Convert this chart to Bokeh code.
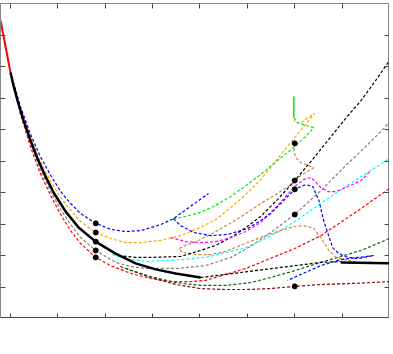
from bokeh.plotting import figure
from bokeh.models import LinearAxis, FixedTicker, Range1d
from bokeh.embed import file_html
from bokeh.resources import INLINE

# ---- data ----
red_solid_x = [-0.21, 0.0]
red_solid_y = [9.46, 7.81]

black_x = [0, 0.063, 0.148, 0.275, 0.423, 0.570, 0.739, 0.909, 1.162, 1.437, 1.796, 2.218, 2.641, 3.064, 3.486, 4.014]
black_y = [7.81, 7.40, 6.92, 6.29, 5.65, 5.08, 4.51, 4.00, 3.40, 2.89, 2.44, 2.06, 1.75, 1.56, 1.43, 1.30]
black_mid_x = [4.01, 4.86, 5.70, 6.55, 6.97]
black_mid_y = [1.30, 1.46, 1.62, 1.78, 1.81]
black_end_x = [6.97, 8.0]
black_end_y = [1.78, 1.75]

blue1_x = [0, 0.21, 0.42, 0.63, 0.85, 1.06, 1.27, 1.48, 1.80, 2.11, 2.43, 2.75, 3.17, 3.44, 3.80, 4.18]
blue1_y = [7.81, 6.73, 5.86, 5.14, 4.54, 4.03, 3.65, 3.33, 3.02, 2.83, 2.76, 2.79, 2.98, 3.17, 3.56, 3.97]

orange_x = [0, 0.21, 0.42, 0.63, 0.85, 1.06, 1.27, 1.48, 1.80, 2.11, 2.43, 2.75, 3.17, 3.59, 4.01, 4.33,
            4.65, 4.97, 5.28, 5.64, 6.00, 6.42, 6.23, 6.09, 5.98]
orange_y = [7.81, 6.67, 5.75, 4.98, 4.35, 3.84, 3.43, 3.08, 2.73, 2.54, 2.41, 2.41, 2.48, 2.63, 2.89, 3.14,
            3.52, 3.94, 4.41, 5.08, 5.75, 6.51, 6.32, 6.19, 6.29]

gray_x = [0, 0.21, 0.42, 0.63, 0.85, 1.06, 1.27, 1.48, 1.80, 2.22, 2.54, 2.85, 3.55, 4.12, 4.65, 5.07,
          5.49, 6.00, 6.55, 7.08, 7.61, 8.0]
gray_y = [7.81, 6.54, 5.56, 4.73, 4.03, 3.46, 2.98, 2.57, 2.16, 1.78, 1.65, 1.59, 1.59, 1.68, 1.94, 2.29,
          2.73, 3.30, 4.06, 4.86, 5.62, 6.22]

red_x = [0, 0.21, 0.42, 0.63, 0.85, 1.06, 1.27, 1.48, 1.80, 2.11, 2.54, 2.96, 3.38, 3.80, 4.12, 4.54,
         4.97, 5.28, 6.00, 6.55, 7.40, 8.0]
red_y = [7.81, 6.48, 5.46, 4.60, 3.90, 3.30, 2.79, 2.38, 1.94, 1.68, 1.43, 1.27, 1.17, 1.17, 1.21, 1.40,
         1.59, 1.78, 2.22, 2.63, 3.49, 4.13]

green_x = [3.44, 3.70, 4.01, 4.33, 4.65, 4.97, 5.28, 5.64, 6.00, 6.23, 6.40, 6.23, 6.06, 5.98]
green_y = [3.17, 3.24, 3.37, 3.59, 3.87, 4.22, 4.57, 5.02, 5.46, 5.78, 6.06, 6.13, 6.22, 6.38]
green_solid_x = [5.98, 5.98]
green_solid_y = [6.38, 7.05]

tan_x = [6.00, 5.98, 6.02, 6.13, 6.28, 6.40, 6.13, 5.92, 5.60, 5.28, 4.97, 4.59, 4.23, 3.91, 3.70, 3.55,
         3.63, 3.91, 4.23, 4.54, 4.90, 5.28, 5.64, 5.98, 6.19, 6.40, 6.55, 6.72, 6.87, 7.12, 7.33, 7.61]
tan_y = [5.56, 5.33, 5.11, 4.95, 4.86, 4.79, 4.54, 4.25, 3.94, 3.65, 3.33, 2.98, 2.67, 2.44, 2.32, 2.22,
         2.10, 2.03, 2.03, 2.13, 2.35, 2.57, 2.76, 2.92, 2.95, 2.86, 2.57, 2.16, 1.94, 1.84, 1.78, 1.78]

magenta_x = [3.38, 3.70, 4.01, 4.33, 4.59, 4.97, 5.28, 5.64, 6.00, 6.19, 6.34, 6.55, 6.70, 6.87, 7.04, 7.40, 7.61]
magenta_y = [2.57, 2.44, 2.41, 2.44, 2.54, 2.76, 3.05, 3.59, 4.19, 4.41, 4.48, 4.16, 4.03, 4.03, 4.13, 4.38, 4.70]

blue2_x = [3.44, 3.59, 3.87, 4.23, 4.59, 5.01, 5.28, 5.49, 5.77, 6.00, 6.23, 6.38, 6.51, 6.61, 6.70, 6.80,
           6.93, 7.12, 7.33, 7.67, 6.97, 6.55, 6.13, 5.85]
blue2_y = [3.17, 2.95, 2.73, 2.63, 2.67, 2.86, 3.11, 3.33, 3.75, 4.10, 4.25, 4.19, 3.75, 3.11, 2.70, 2.25,
           2.06, 1.94, 1.90, 2.00, 1.87, 1.68, 1.40, 1.21]

cyan_x = [2.15, 2.43, 2.85, 3.38, 4.12, 4.97, 5.39, 5.70, 6.00, 6.34, 6.70, 7.08, 7.50, 8.0]
cyan_y = [2.03, 1.90, 1.81, 1.84, 1.94, 2.25, 2.54, 2.79, 3.08, 3.43, 3.81, 4.19, 4.60, 5.08]

black2_x = [2.28, 2.64, 2.96, 3.59, 4.01, 4.33, 4.65, 4.97, 5.28, 5.64, 6.00, 6.34, 6.70, 7.04, 7.40, 7.71, 8.0]
black2_y = [2.00, 1.94, 1.94, 1.97, 2.16, 2.32, 2.57, 2.89, 3.24, 3.78, 4.38, 4.98, 5.65, 6.29, 6.92, 7.56, 8.19]

darkred_x = [2.32, 2.96, 3.49, 4.01, 4.54, 4.97, 5.49, 6.00, 6.55, 7.18, 8.0]
darkred_y = [1.65, 1.30, 1.08, 0.95, 0.92, 0.92, 0.95, 1.02, 1.08, 1.11, 1.17]

darkgreen_x = [2.43, 2.96, 3.49, 4.01, 4.54, 5.07, 5.49, 6.00, 6.55, 6.97, 7.40, 8.0]
darkgreen_y = [1.59, 1.33, 1.14, 1.05, 1.05, 1.14, 1.30, 1.52, 1.78, 1.97, 2.16, 2.54]

dots_x = [1.8, 1.8, 1.8, 1.8, 1.8, 6.0, 6.0, 6.0, 6.0, 6.0]
dots_y = [3.02, 2.73, 2.44, 2.16, 1.94, 5.56, 4.38, 4.10, 3.30, 1.02]

x_ticks = [0, 1, 2, 3, 4, 5, 6, 7, 8]
y_ticks = [1, 2, 3, 4, 5, 6, 7, 8, 9]

# ---- figure ----
p = figure(frame_width=389, frame_height=315, output_backend="svg", toolbar_location=None,
           x_range=Range1d(-0.211, 8.0), y_range=Range1d(0, 10.0),
           min_border_left=0, min_border_top=3, min_border_right=0, min_border_bottom=0,
           x_axis_location=None, y_axis_location=None)
p.grid.visible = False
p.outline_line_color = "#888888"
p.outline_line_width = 1
p.background_fill_color = "white"
p.border_fill_color = "white"


def make_axis(ticks, color="#555555", width=1):
    a = LinearAxis(ticker=FixedTicker(ticks=ticks))
    a.major_label_overrides = {t: "" for t in ticks}
    a.major_label_standoff = 0
    a.major_tick_in = 5
    a.major_tick_out = 0
    a.minor_tick_line_color = None
    a.major_tick_line_color = "#444444"
    a.axis_line_color = color
    a.axis_line_width = width
    return a


p.add_layout(make_axis(x_ticks, "black", 2), "below")
p.add_layout(make_axis(x_ticks, "#888888"), "above")
p.add_layout(make_axis(y_ticks, "#888888"), "left")
p.add_layout(make_axis(y_ticks, "#555555"), "right")

dash = "3 2"
lw = 1.2

p.line(red_solid_x, red_solid_y, line_color="red", line_width=2)
p.line(red_x, red_y, line_color="red", line_width=lw, line_dash=dash)
p.line(darkred_x, darkred_y, line_color="#8b0000", line_width=lw, line_dash=dash)
p.line(darkgreen_x, darkgreen_y, line_color="#006400", line_width=lw, line_dash=dash)
p.line(gray_x, gray_y, line_color="gray", line_width=lw, line_dash=dash)
p.line(cyan_x, cyan_y, line_color="cyan", line_width=lw, line_dash=dash)
p.line(tan_x, tan_y, line_color="#cd853f", line_width=lw, line_dash=dash)
p.line(black2_x, black2_y, line_color="black", line_width=lw, line_dash=dash)
p.line(black_mid_x, black_mid_y, line_color="black", line_width=lw, line_dash=dash)
p.line(orange_x, orange_y, line_color="orange", line_width=lw, line_dash=dash)
p.line(green_x, green_y, line_color="#00ee00", line_width=lw, line_dash=dash)
p.line(green_solid_x, green_solid_y, line_color="#00ee00", line_width=1.5)
p.line(magenta_x, magenta_y, line_color="magenta", line_width=lw, line_dash=dash)
p.line(blue1_x, blue1_y, line_color="blue", line_width=lw, line_dash=dash)
p.line(blue2_x, blue2_y, line_color="blue", line_width=lw, line_dash=dash)
p.line(black_x, black_y, line_color="black", line_width=2.5)
p.line(black_end_x, black_end_y, line_color="black", line_width=2.5)
p.scatter(dots_x, dots_y, size=5, color="black")

open("out.html", "w").write(file_html(p, INLINE))
